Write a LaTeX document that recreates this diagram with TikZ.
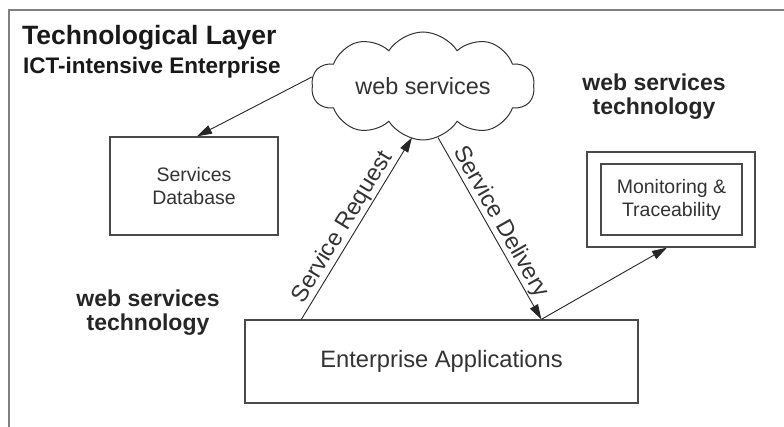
\documentclass[tikz,border=0pt]{standalone}
\usepackage{fontspec}
\setmainfont{Liberation Sans}
\usetikzlibrary{arrows.meta,shapes.symbols,calc}

\definecolor{framegray}{HTML}{808080}
\definecolor{boxgray}{HTML}{4A4A4A}
\definecolor{inkgray}{HTML}{333333}

\tikzset{
  fsz/.style={font=\fontsize{#1}{#1}\selectfont},
  bfsz/.style={font=\bfseries\fontsize{#1}{#1}\selectfont},
  plainbox/.style={draw=boxgray, line width=1.3pt, fill=white, inner sep=0pt,
                   text=inkgray, align=center},
  arr/.style={draw=black!85, line width=0.9pt,
              -{Triangle[length=15pt,width=9pt]}},
  edgelabel/.style={sloped, above=1pt, fsz=23.5, text=inkgray, inner sep=0pt},
  heading/.style={text=black!90, inner sep=0pt},
}

\begin{document}
\begin{tikzpicture}[x=1pt, y=-1pt]
  \useasboundingbox (0,0) rectangle (784,427);
  \fill[white] (0,0) rectangle (784,427);

  % outer frame of the layer (open to the right and bottom)
  \draw[framegray, line width=2.5pt] (9,10) rectangle (800,440);

  % headings
  \node[heading, bfsz=26.5, anchor=base west] (title) at (22,45) {Technological Layer};
  \node[heading, bfsz=22.5, anchor=base west] (subtitle) at (23,74) {ICT-intensive Enterprise};

  % the web services cloud
  \node[cloud, cloud puffs=10, cloud puff arc=115, cloud ignores aspect,
        draw=black!80, line width=1pt, fill=white,
        minimum width=223pt, minimum height=108pt, inner sep=0pt,
        fsz=23.4, text=inkgray] (ws) at (423,86) {web services};

  % side labels
  \node[heading, bfsz=23, align=center, text=black!85] (techR) at (654,97)
        {web services\\[1pt]technology};
  \node[heading, bfsz=23, align=center, text=black!85] (techL) at (148,313)
        {web services\\[1pt]technology};

  % boxes
  \node[plainbox, minimum width=168pt, minimum height=98pt, fsz=19.5]
        (db) at (194,186) {Services\\[4pt]Database};
  \node[plainbox, minimum width=168pt, minimum height=95pt] (monout) at (671,199.5) {};
  \node[plainbox, minimum width=141pt, minimum height=71pt, fsz=19.5]
        (mon) at (671.5,199.5) {Monitoring \&\\[3.5pt]Traceability};
  \node[plainbox, minimum width=393pt, minimum height=83pt, fsz=23.7]
        (ea) at (441.5,361.5) {Enterprise Applications};

  % connectors
  \draw[arr] ([yshift=9pt]ws.west) -- ([xshift=3pt]db.north);
  \draw[arr] ([xshift=57pt]ea.north west)
        -- node[edgelabel, pos=0.47] {Service Request}
        ([xshift=-11pt,yshift=3pt]ws.south);
  \draw[arr] ([xshift=15pt,yshift=3pt]ws.south)
        -- node[edgelabel, pos=0.5] {Service Delivery}
        ([xshift=297pt]ea.north west);
  \draw[arr] ([xshift=297pt]ea.north west) -- ([xshift=-4pt]monout.south);
\end{tikzpicture}
\end{document}
